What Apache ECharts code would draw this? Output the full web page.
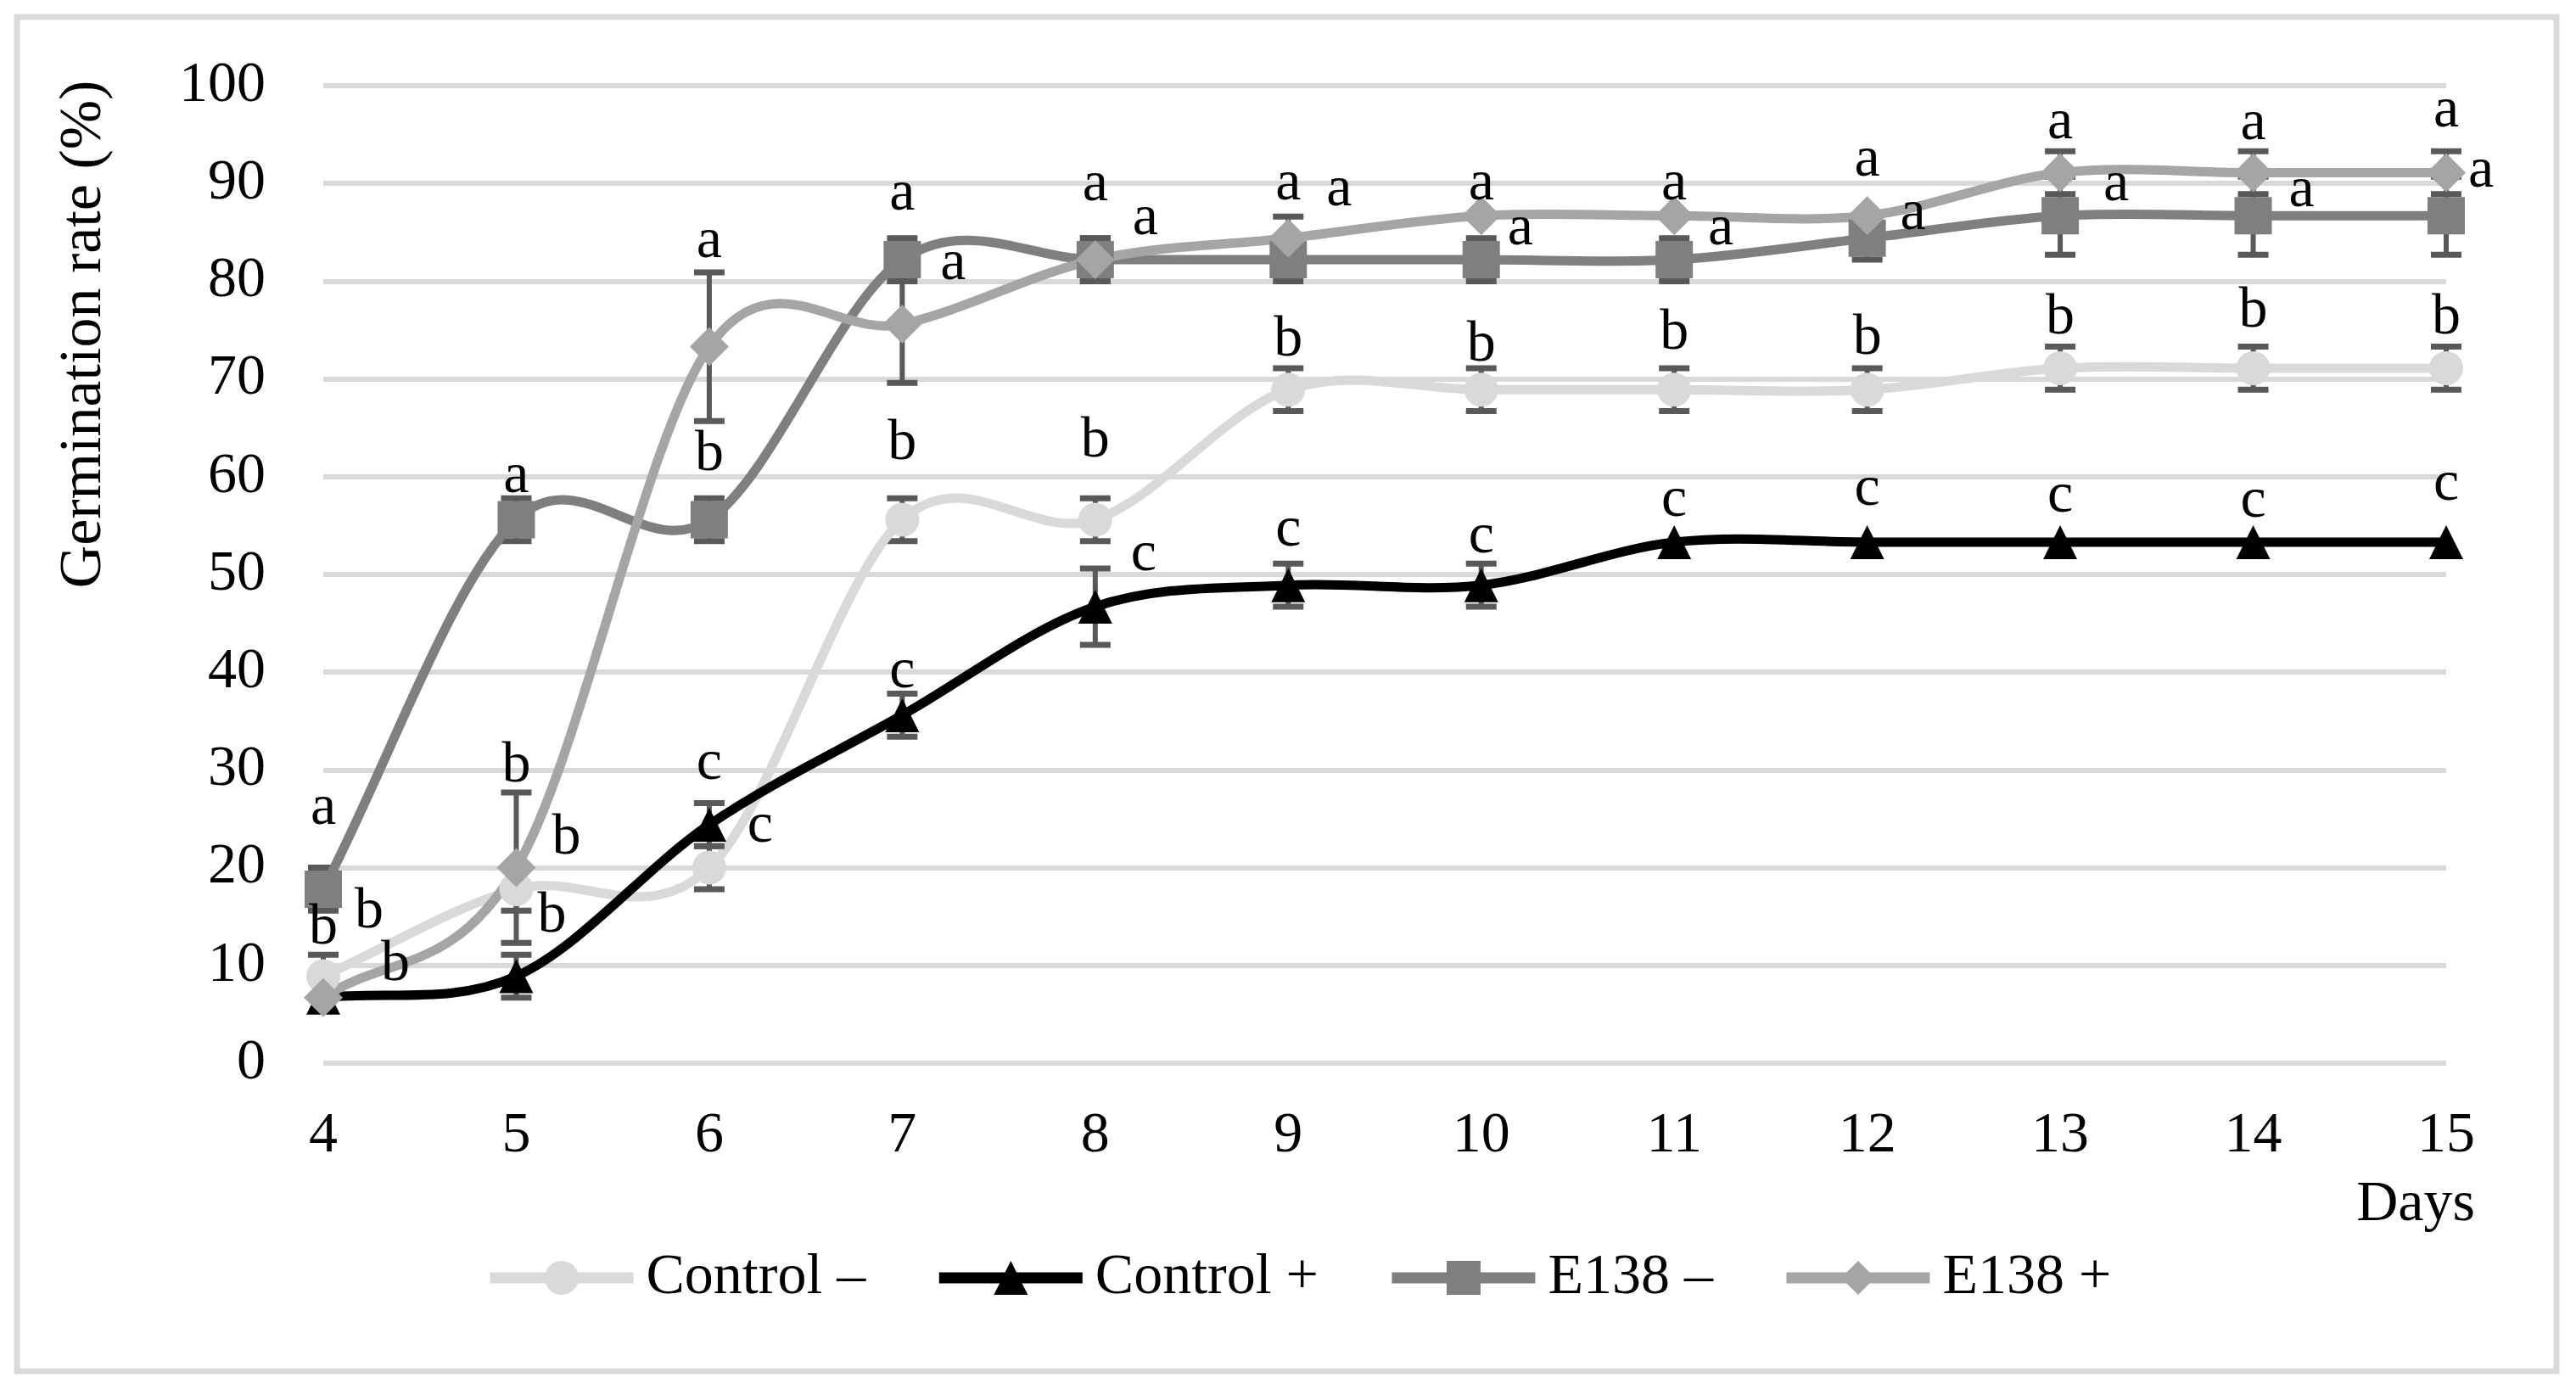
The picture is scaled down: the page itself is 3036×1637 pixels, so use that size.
<!DOCTYPE html>
<html><head><meta charset="utf-8">
<script src="https://cdn.jsdelivr.net/npm/echarts@6/dist/echarts.min.js"></script>
<style>html,body{margin:0;padding:0;background:#fff}#c{width:3036px;height:1637px}</style>
</head><body><div id="c"></div>
<script>
// ---- data ----
const days = ['4','5','6','7','8','9','10','11','12','13','14','15'];
const yTicks = [0,10,20,30,40,50,60,70,80,90,100];
const seriesNames = ['Control –','Control +','E138 –','E138 +'];

const ctrlMinus      = [8.9, 17.8, 20.0, 55.6, 55.6, 68.9, 68.9, 68.9, 68.9, 71.1, 71.1, 71.1];
const ctrlMinusErr   = [2.2, 2.2, 2.2, 2.2, 2.2, 2.2, 2.2, 2.2, 2.2, 2.2, 2.2, 2.2];
const ctrlMinusLet   = ['b','b','c','b','b','b','b','b','b','b','b','b'];

const ctrlPlus       = [6.7, 8.9, 24.4, 35.6, 46.7, 48.9, 48.9, 53.3, 53.3, 53.3, 53.3, 53.3];
const ctrlPlusErr    = [0, 2.2, 2.2, 2.2, 3.9, 2.2, 2.2, 0, 0, 0, 0, 0];
const ctrlPlusLet    = ['b','b','c','c','c','c','c','c','c','c','c','c'];

const e138Minus      = [17.8, 55.6, 55.6, 82.2, 82.2, 82.2, 82.2, 82.2, 84.4, 86.7, 86.7, 86.7];
const e138MinusErr   = [2.2, 2.2, 2.2, 2.2, 2.2, 2.2, 2.2, 2.2, 2.2, 4.0, 4.0, 4.0];
const e138MinusLet   = ['a','a','b','a','a','a','a','a','a','a','a','a'];

const e138Plus       = [6.7, 20.0, 73.3, 75.6, 82.2, 84.4, 86.7, 86.7, 86.7, 91.1, 91.1, 91.1];
const e138PlusErr    = [0, 7.7, 7.6, 6.0, 2.2, 2.2, 0, 0, 0, 2.2, 2.2, 2.2];
const e138PlusLet    = ['b','b','a','a','a','a','a','a','a','a','a','a'];

// ---- letter placement (style): number = px gap above error-bar top, [dx,dy] = px offset from point ----
const ctrlMinusLbl = [31, [59,-60], [60,-48], 64, 67, 33, 27, 41, 35, 33, 41, 33];
const ctrlPlusLbl  = [[85,-39], [42,-70], 46, 25, [57,-61], 39, 31, 49, 62, 54, 48, 68];
const e138MinusLbl = [69, 25, 51, 52, [59,-48], [60,-82], [46,-36], [55,-36], [54,-29], [66,-36], [57,-29], [41,-52]];
const e138PlusLbl  = [[54,-101], 31, 36, [60,-71], 63, 38, 37, 37, 65, 33, 32, 47];

// ---- styles ----
const FONT = 'Liberation Serif';
const FS = 68;
const LW = 11;
const colors = ['#d9d9d9', '#000000', '#7f7f7f', '#a5a5a5'];
const symbols = ['circle', 'triangle', 'rect', 'diamond'];
const symbolSizes = [40, 40, 44, 46];
const ERR_COLOR = '#595959';

function errSeries(vals, errs) {
  return {
    type: 'custom',
    silent: true,
    data: vals.map((v, i) => [i, v, errs[i]]),
    encode: { x: 0, y: 1 },
    renderItem: function (params, api) {
      const i = api.value(0), v = api.value(1), e = api.value(2);
      if (!e) return null;
      const t = api.coord([i, v + e]);
      const b = api.coord([i, v - e]);
      const hw = 18;
      return {
        type: 'group',
        children: [
          { type: 'line', shape: { x1: t[0], y1: t[1], x2: b[0], y2: b[1] }, style: { stroke: ERR_COLOR, lineWidth: 6 } },
          { type: 'line', shape: { x1: t[0] - hw, y1: t[1], x2: t[0] + hw, y2: t[1] }, style: { stroke: ERR_COLOR, lineWidth: 7 } },
          { type: 'line', shape: { x1: b[0] - hw, y1: b[1], x2: b[0] + hw, y2: b[1] }, style: { stroke: ERR_COLOR, lineWidth: 7 } }
        ]
      };
    },
    z: 2
  };
}

// smoothed (Catmull-Rom / Excel-like) connecting curve, drawn segment by segment through the axes
function curveSeries(k, vals) {
  const n = vals.length;
  return {
    type: 'custom',
    silent: true,
    data: vals.map((v, i) => [i, v]),
    encode: { x: 0, y: 1 },
    renderItem: function (params, api) {
      const i = params.dataIndex;
      if (i >= n - 1) return null;
      const i0 = Math.max(0, i - 1), i3 = Math.min(n - 1, i + 2);
      const p0 = api.coord([i0, vals[i0]]);
      const p1 = api.coord([i, vals[i]]);
      const p2 = api.coord([i + 1, vals[i + 1]]);
      const p3 = api.coord([i3, vals[i3]]);
      const f0 = (i0 === i) ? 1 / 3 : 1 / 6;
      const f3 = (i3 === i + 1) ? 1 / 3 : 1 / 6;
      return {
        type: 'bezierCurve',
        shape: {
          x1: p1[0], y1: p1[1], x2: p2[0], y2: p2[1],
          cpx1: p1[0] + (p2[0] - p0[0]) * f0, cpy1: p1[1] + (p2[1] - p0[1]) * f0,
          cpx2: p2[0] - (p3[0] - p1[0]) * f3, cpy2: p2[1] - (p3[1] - p1[1]) * f3
        },
        style: { stroke: colors[k], lineWidth: LW, fill: 'none', lineCap: 'round' }
      };
    },
    z: 2
  };
}

function lineSeries(k, vals) {
  return {
    name: seriesNames[k],
    type: 'line',
    data: vals,
    symbol: symbols[k],
    symbolSize: symbolSizes[k],
    showAllSymbol: true,
    lineStyle: { color: colors[k], width: LW, opacity: 0 },
    itemStyle: { color: colors[k] },
    z: 2
  };
}

function letterSeries(vals, errs, lets, lbl) {
  return {
    type: 'custom',
    silent: true,
    data: vals.map((v, i) => [i, v, errs[i]]),
    encode: { x: 0, y: 1 },
    renderItem: function (params, api) {
      const idx = params.dataIndex;
      const i = api.value(0), v = api.value(1), e = api.value(2);
      const L = lbl[idx];
      let x, y;
      if (Array.isArray(L)) {
        const p = api.coord([i, v]);
        x = p[0] + L[0]; y = p[1] + L[1];
      } else {
        const t = api.coord([i, v + e]);
        x = t[0]; y = t[1] - L;
      }
      return {
        type: 'text',
        x: x, y: y,
        style: { text: lets[idx], fill: '#000', fontSize: FS, fontFamily: FONT, align: 'center', verticalAlign: 'middle' }
      };
    },
    z: 10
  };
}

const chart = echarts.init(document.getElementById('c'), null, { renderer: 'canvas' });
chart.setOption({
  animation: false,
  backgroundColor: '#ffffff',
  grid: { left: 381, right: 153, top: 101, bottom: 384 },
  xAxis: {
    type: 'category',
    data: days,
    boundaryGap: false,
    axisLine: { show: false },
    axisTick: { show: false },
    axisLabel: { color: '#000', fontFamily: FONT, fontSize: FS, margin: 52 },
    splitLine: { show: false }
  },
  yAxis: {
    type: 'value',
    min: yTicks[0], max: yTicks[yTicks.length - 1], interval: 10,
    axisLine: { show: false },
    axisTick: { show: false },
    axisLabel: { color: '#000', fontFamily: FONT, fontSize: FS, margin: 68 },
    splitLine: { lineStyle: { color: '#d9d9d9', width: 6 } }
  },
  legend: {
    data: seriesNames,
    left: 571, top: 1472,
    padding: 0,
    itemWidth: 169, itemHeight: 50, itemGap: 80,
    lineStyle: { width: 13, opacity: 1 },
    textStyle: { color: '#000', fontFamily: FONT, fontSize: FS, padding: [0, 0, 0, 10] }
  },
  graphic: [
    { type: 'rect', shape: { x: 20, y: 20, width: 2993, height: 1596 }, style: { fill: 'none', stroke: '#d9d9d9', lineWidth: 7 }, silent: true },
    { type: 'text', x: 100, y: 394, rotation: Math.PI / 2,
      style: { text: 'Germination rate (%)', fill: '#000', fontSize: 70, fontFamily: FONT, align: 'center', verticalAlign: 'middle' } },
    { type: 'text', x: 2917, y: 1420,
      style: { text: 'Days', fill: '#000', fontSize: FS, fontFamily: FONT, align: 'right', verticalAlign: 'middle' } }
  ],
  series: [
    errSeries(ctrlMinus, ctrlMinusErr),
    curveSeries(0, ctrlMinus),
    lineSeries(0, ctrlMinus),
    errSeries(ctrlPlus, ctrlPlusErr),
    curveSeries(1, ctrlPlus),
    lineSeries(1, ctrlPlus),
    errSeries(e138Minus, e138MinusErr),
    curveSeries(2, e138Minus),
    lineSeries(2, e138Minus),
    errSeries(e138Plus, e138PlusErr),
    curveSeries(3, e138Plus),
    lineSeries(3, e138Plus),
    letterSeries(ctrlMinus, ctrlMinusErr, ctrlMinusLet, ctrlMinusLbl),
    letterSeries(ctrlPlus, ctrlPlusErr, ctrlPlusLet, ctrlPlusLbl),
    letterSeries(e138Minus, e138MinusErr, e138MinusLet, e138MinusLbl),
    letterSeries(e138Plus, e138PlusErr, e138PlusLet, e138PlusLbl)
  ]
});
</script>
</body></html>
